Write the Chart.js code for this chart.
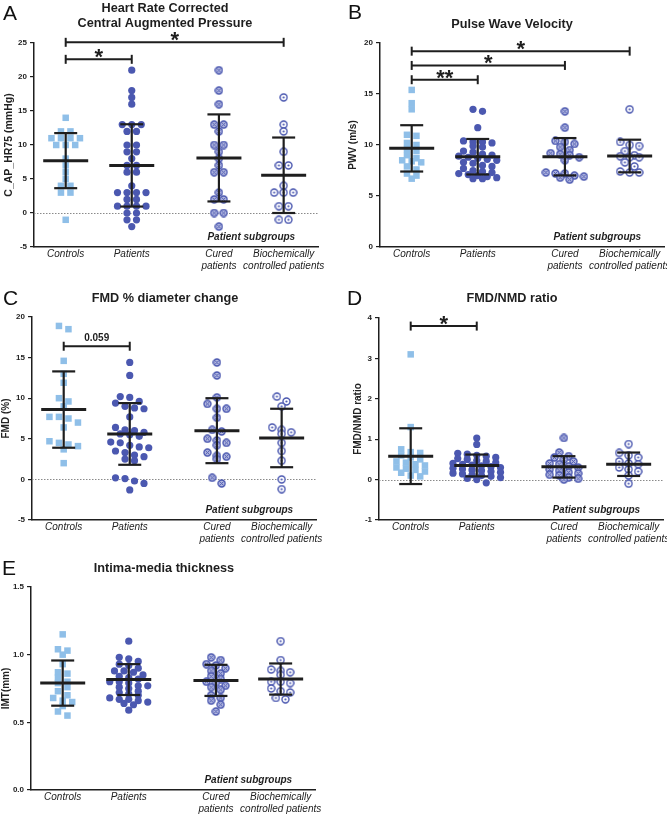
<!DOCTYPE html>
<html>
<head>
<meta charset="utf-8">
<script src="https://cdn.jsdelivr.net/npm/chart.js@4.4.1/dist/chart.umd.min.js"></script>
<style>
html,body{margin:0;padding:0;background:#fff;width:667px;height:815px;overflow:hidden;position:relative}
canvas{position:absolute}
</style>
</head>
<body>
<canvas id="cA" width="333" height="272" style="left:0;top:0"></canvas>
<canvas id="cB" width="350" height="272" style="left:333px;top:0"></canvas>
<canvas id="cC" width="333" height="260" style="left:0;top:285px"></canvas>
<canvas id="cD" width="350" height="260" style="left:333px;top:285px"></canvas>
<canvas id="cE" width="333" height="260" style="left:0;top:555px"></canvas>
<script>
// ---------- shared categories ----------
const categoryPositions = [1, 2, 3.32, 4.3];
const categoryLabels = ['Controls', 'Patients', ['Cured', 'patients'], ['Biochemically', 'controlled patients']];
const subgroupLabel = 'Patient subgroups';

// ---------- Panel A: Heart Rate Corrected Central Augmented Pressure ----------
const aControls = [14, 12, 12, 11, 11, 11, 11, 10, 10, 10, 8, 7, 6, 5, 4, 4, 3, 3, -1];
const aPatients = [21, 18, 17, 16, 13, 13, 13, 12, 12, 10, 10, 9, 9, 8, 7, 7, 6, 6, 4, 3, 3, 3, 3, 2, 2, 1, 1, 1, 1, 0, 0, -1, -1, -2];
const aCured = [21, 18, 16, 13, 13, 12, 10, 10, 9, 8, 7, 6, 6, 3, 2, 2, 0, 0, -2];
const aBiochem = [17, 13, 12, 9, 7, 7, 4, 3, 3, 3, 1, 1, -1, -1];
const aMeans = [7.7, 7.0, 8.1, 5.55];
const aSDs = [4.05, 6.05, 6.4, 5.55];
const aTicks = [-5, 0, 5, 10, 15, 20, 25];
const aBracketFrom = [0, 0];
const aBracketTo = [1, 3];
const aBracketY = [22.6, 25.1];
const aBracketText = ['*', '*'];

// ---------- Panel B: Pulse Wave Velocity ----------
const bControls = [15.4, 14.1, 13.5, 11.0, 10.9, 10.2, 10.0, 9.6, 9.4, 9.0, 8.7, 8.5, 8.4, 8.3, 7.9, 7.6, 7.2, 7.0, 6.7];
const bPatients = [13.5, 13.3, 11.7, 10.4, 10.3, 10.3, 10.2, 9.9, 9.8, 9.4, 9.3, 9.1, 9.0, 8.9, 8.8, 8.7, 8.6, 8.5, 8.3, 8.2, 8.0, 7.9, 7.7, 7.5, 7.4, 7.3, 7.2, 7.1, 7.0, 6.9, 6.8, 6.7, 6.7];
const bCured = [13.3, 11.7, 10.4, 10.3, 10.1, 9.8, 9.5, 9.2, 9.1, 9.0, 8.8, 8.5, 7.3, 7.2, 7.2, 7.0, 6.9, 6.8, 6.6];
const bBiochem = [13.5, 10.3, 10.0, 9.9, 9.4, 9.0, 8.9, 8.8, 8.8, 8.3, 7.9, 7.4, 7.3, 7.3];
const bMeans = [9.67, 8.85, 8.85, 8.92];
const bSDs = [2.27, 1.74, 1.83, 1.6];
const bTicks = [0, 5, 10, 15, 20];
const bBracketFrom = [0, 0, 0];
const bBracketTo = [1, 2, 3];
const bBracketY = [16.4, 17.8, 19.2];
const bBracketText = ['**', '*', '*'];

// ---------- Panel C: FMD % diameter change ----------
const cControls = [18.9, 18.5, 14.6, 13.0, 11.9, 10.0, 9.6, 9.0, 7.7, 7.7, 7.5, 7.0, 6.4, 4.7, 4.5, 4.3, 4.1, 3.7, 2.0];
const cPatients = [14.4, 12.8, 10.2, 10.1, 9.6, 9.4, 9.0, 8.8, 8.7, 7.7, 6.4, 6.1, 6.0, 5.8, 5.6, 5.5, 5.3, 4.6, 4.5, 4.2, 4.0, 3.9, 3.5, 3.3, 3.0, 2.8, 2.5, 2.3, 0.2, 0.1, -0.2, -0.5, -1.3];
const cCured = [14.4, 12.8, 10.1, 9.3, 8.7, 8.7, 7.6, 6.1, 5.9, 5.0, 4.8, 4.5, 4.2, 3.3, 2.9, 2.8, 2.5, 0.2, -0.5];
const cBiochem = [10.2, 9.6, 9.0, 6.4, 6.1, 5.8, 5.6, 4.5, 3.5, 2.3, 0.0, -1.2];
const cMeans = [8.6, 5.6, 6.0, 5.1];
const cSDs = [4.7, 3.8, 4.0, 3.6];
const cTicks = [-5, 0, 5, 10, 15, 20];
const cBracketFrom = [0];
const cBracketTo = [1];
const cBracketY = [16.4];
const cBracketText = ['0.059'];

// ---------- Panel D: FMD/NMD ratio ----------
const dControls = [3.1, 1.3, 0.75, 0.68, 0.66, 0.6, 0.55, 0.5, 0.45, 0.42, 0.38, 0.35, 0.3, 0.27, 0.24, 0.2, 0.17, 0.1, 0.08];
const dPatients = [1.03, 0.87, 0.65, 0.63, 0.6, 0.58, 0.55, 0.52, 0.5, 0.47, 0.45, 0.42, 0.4, 0.38, 0.36, 0.34, 0.32, 0.3, 0.28, 0.26, 0.24, 0.22, 0.2, 0.18, 0.16, 0.14, 0.12, 0.1, 0.08, 0.05, 0.03, 0.0, -0.08];
const dCured = [1.03, 0.67, 0.58, 0.55, 0.5, 0.45, 0.4, 0.38, 0.33, 0.3, 0.25, 0.22, 0.18, 0.15, 0.12, 0.1, 0.05, 0.02, 0.0];
const dBiochem = [0.88, 0.66, 0.6, 0.55, 0.45, 0.4, 0.38, 0.3, 0.25, 0.2, 0.1, -0.1];
const dMeans = [0.58, 0.35, 0.315, 0.38];
const dSDs = [0.69, 0.27, 0.265, 0.29];
const dTicks = [-1, 0, 1, 2, 3, 4];
const dBracketFrom = [0];
const dBracketTo = [1];
const dBracketY = [3.8];
const dBracketText = ['*'];

// ---------- Panel E: Intima-media thickness ----------
const eControls = [1.15, 1.04, 1.03, 1.0, 0.93, 0.87, 0.86, 0.83, 0.80, 0.79, 0.76, 0.73, 0.70, 0.68, 0.66, 0.65, 0.62, 0.58, 0.55];
const ePatients = [1.10, 0.98, 0.97, 0.95, 0.93, 0.92, 0.90, 0.88, 0.88, 0.87, 0.85, 0.84, 0.83, 0.82, 0.80, 0.80, 0.79, 0.77, 0.77, 0.76, 0.75, 0.73, 0.72, 0.71, 0.70, 0.68, 0.67, 0.67, 0.66, 0.65, 0.64, 0.63, 0.59];
const eCured = [0.98, 0.96, 0.93, 0.92, 0.90, 0.88, 0.86, 0.84, 0.82, 0.80, 0.79, 0.77, 0.76, 0.74, 0.70, 0.68, 0.66, 0.63, 0.58];
const eBiochem = [1.10, 0.96, 0.89, 0.88, 0.87, 0.85, 0.80, 0.80, 0.79, 0.75, 0.73, 0.72, 0.68, 0.67];
const eMeans = [0.79, 0.816, 0.81, 0.82];
const eSDs = [0.167, 0.114, 0.115, 0.115];
const eTicks = [0, 0.5, 1.0, 1.5];

// ---------- styling ----------
const FONT = "'Liberation Sans', Arial, Helvetica, sans-serif";
const INK = '#1e1e1e';
const LIGHT_BLUE = '#8fbfe8';
const BLUE = '#4b58b0';

function ringMarker(kind) {
  const c = document.createElement('canvas');
  c.width = 9; c.height = 9;
  const g = c.getContext('2d');
  const cx = 4.5, cy = 4.5, r = 3.5;
  g.beginPath(); g.arc(cx, cy, r, 0, Math.PI * 2);
  g.fillStyle = kind === 'cross' ? '#b3b8e0' : '#ffffff';
  g.fill();
  if (kind === 'cross') {
    g.strokeStyle = BLUE; g.lineWidth = 1;
    g.beginPath();
    g.moveTo(cx - 2, cy - 2); g.lineTo(cx + 2, cy + 2);
    g.moveTo(cx + 2, cy - 2); g.lineTo(cx - 2, cy + 2);
    g.stroke();
  } else {
    g.fillStyle = BLUE;
    g.beginPath(); g.arc(cx, cy, 1.1, 0, Math.PI * 2); g.fill();
  }
  g.strokeStyle = BLUE; g.lineWidth = 1.4;
  g.beginPath(); g.arc(cx, cy, r, 0, Math.PI * 2); g.stroke();
  return c;
}
const crossMarker = ringMarker('cross');
const dotMarker = ringMarker('dot');

function makeDatasets(groups) {
  const styles = ['rect', 'circle', crossMarker, dotMarker];
  return groups.map((vals, i) => ({
    data: vals.map(v => ({ x: categoryPositions[i], y: v })),
    pointStyle: styles[i],
    pointRadius: i === 0 ? 4.6 : 3.6,
    pointHoverRadius: i === 0 ? 4.6 : 3.6,
    backgroundColor: i === 0 ? LIGHT_BLUE : BLUE,
    borderColor: i === 0 ? LIGHT_BLUE : BLUE,
    borderWidth: 0,
    showLine: false
  }));
}

const POINT_GAP = 9.5;
function swarm(chart, rowBin) {
  chart.data.datasets.forEach((ds, i) => {
    const meta = chart.getDatasetMeta(i);
    const pts = meta.data.slice().sort((a, b) => a.y - b.y);
    const rows = []; let cur = [];
    pts.forEach(p => {
      if (cur.length && p.y - cur[0].y >= rowBin) { rows.push(cur); cur = []; }
      cur.push(p);
    });
    if (cur.length) rows.push(cur);
    rows.forEach(r => r.forEach((p, j) => { p.x = p.x + (j - (r.length - 1) / 2) * POINT_GAP; }));
  });
}

function line(ctx, x1, y1, x2, y2) { ctx.beginPath(); ctx.moveTo(x1, y1); ctx.lineTo(x2, y2); ctx.stroke(); }

const decoPlugin = {
  id: 'deco',
  afterDatasetsUpdate(chart, args, o) { swarm(chart, o.rowBin); },
  beforeDatasetsDraw(chart, args, o) {
    if (!o.zeroLine) return;
    const ctx = chart.ctx, ys = chart.scales.y, ca = chart.chartArea;
    const y0 = Math.round(ys.getPixelForValue(0)) + 0.5;
    ctx.save();
    ctx.strokeStyle = '#8a8a8a'; ctx.lineWidth = 1; ctx.setLineDash([1.5, 1.5]);
    line(ctx, ca.left, y0, ca.right, y0);
    ctx.restore();
  },
  afterDatasetsDraw(chart, args, o) {
    const ctx = chart.ctx, xs = chart.scales.x, ys = chart.scales.y;
    ctx.save();
    ctx.strokeStyle = INK; ctx.fillStyle = INK; ctx.lineCap = 'butt';
    o.means.forEach((m, i) => {
      const cx = xs.getPixelForValue(categoryPositions[i]);
      const yM = ys.getPixelForValue(m);
      const yU = ys.getPixelForValue(m + o.sds[i]);
      const yL = ys.getPixelForValue(m - o.sds[i]);
      ctx.lineWidth = 2.2;
      line(ctx, cx, yU, cx, yL);
      line(ctx, cx - 11.5, yU, cx + 11.5, yU);
      line(ctx, cx - 11.5, yL, cx + 11.5, yL);
      ctx.lineWidth = 3;
      line(ctx, cx - 22.5, yM, cx + 22.5, yM);
    });
    (o.bFrom || []).forEach((f, k) => {
      const x1 = xs.getPixelForValue(categoryPositions[f]);
      const x2 = xs.getPixelForValue(categoryPositions[o.bTo[k]]);
      const y = ys.getPixelForValue(o.bY[k]);
      ctx.lineWidth = 2;
      line(ctx, x1, y, x2, y);
      line(ctx, x1, y - 4.5, x1, y + 4.5);
      line(ctx, x2, y - 4.5, x2, y + 4.5);
      const txt = o.bText[k];
      const isStar = /^\*+$/.test(txt);
      ctx.font = isStar ? 'bold 22px ' + FONT : 'bold 10px ' + FONT;
      ctx.textAlign = 'center'; ctx.textBaseline = 'alphabetic';
      const mt = ctx.measureText(txt);
      const gap = isStar ? 1 : 5;
      const base = y - gap - mt.actualBoundingBoxDescent;
      ctx.fillText(txt, (x1 + x2) / 2, base);
    });
    ctx.restore();
  },
  afterDraw(chart, args, o) {
    const ctx = chart.ctx, xs = chart.scales.x, ca = chart.chartArea;
    ctx.save();
    ctx.fillStyle = '#111';
    ctx.textAlign = 'left'; ctx.textBaseline = 'alphabetic';
    ctx.font = '21px ' + FONT;
    ctx.fillText(o.letter, o.letterX, o.letterY);
    ctx.fillStyle = INK;
    ctx.textAlign = 'center';
    ctx.font = 'bold 12.7px ' + FONT;
    o.title.forEach((t, i) => ctx.fillText(t, o.titleX, o.titleY[i]));
    ctx.font = 'italic bold 10px ' + FONT;
    ctx.textBaseline = 'middle';
    const sx = xs.getPixelForValue((categoryPositions[2] + categoryPositions[3]) / 2);
    ctx.fillText(subgroupLabel, sx, ca.bottom - 10);
    ctx.restore();
  }
};

function makeChart(id, p) {
  const canvas = document.getElementById(id);
  return new Chart(canvas, {
    type: 'scatter',
    data: { datasets: makeDatasets(p.groups) },
    plugins: [decoPlugin],
    options: {
      responsive: false,
      animation: false,
      events: [],
      layout: { padding: p.padding },
      plugins: {
        legend: { display: false },
        tooltip: { enabled: false },
        deco: p.deco
      },
      scales: {
        x: {
          type: 'linear', min: 0.52, max: 4.82,
          afterBuildTicks: s => { s.ticks = categoryPositions.map(v => ({ value: v })); },
          afterFit: s => { s.height = 25; },
          ticks: {
            callback: (v, i) => categoryLabels[i],
            autoSkip: false, maxRotation: 0, minRotation: 0, padding: 1,
            color: '#222', font: { family: FONT, size: 10, style: 'italic', lineHeight: 1.2 }
          },
          grid: { display: true, drawOnChartArea: false, drawTicks: false },
          border: { display: true, color: INK, width: 1.5 }
        },
        y: {
          type: 'linear', min: p.ticks[0], max: p.ticks[p.ticks.length - 1],
          afterBuildTicks: s => { s.ticks = p.ticks.map(v => ({ value: v })); },
          afterFit: s => { s.width = p.yWidth; },
          ticks: {
            callback: p.tickFmt || (v => String(v)),
            padding: 3, color: '#222',
            font: { family: FONT, size: 8, weight: 'bold' }
          },
          grid: { display: true, drawOnChartArea: false, drawTicks: true, tickLength: 4, color: INK, lineWidth: 1.2 },
          border: { display: true, color: INK, width: 1.5 },
          title: {
            display: true, text: p.yTitle, color: '#222',
            font: { family: FONT, size: p.yTitleSize || 10, weight: 'bold', lineHeight: 1.2 },
            padding: { top: p.yTitlePad, bottom: 0 }
          }
        }
      }
    }
  });
}

makeChart('cA', {
  groups: [aControls, aPatients, aCured, aBiochem], ticks: aTicks,
  yTitle: 'C_AP_HR75 (mmHg)', yWidth: 34, yTitlePad: 3, yTitleSize: 10.5,
  padding: { left: 0, right: 15, top: 43, bottom: 0 },
  deco: { letter: 'A', letterX: 3, letterY: 20, title: ['Heart Rate Corrected', 'Central Augmented Pressure'],
          titleX: 165, titleY: [11.7, 27.3], zeroLine: true, means: aMeans, sds: aSDs, rowBin: 6,
          bFrom: aBracketFrom, bTo: aBracketTo, bY: aBracketY, bText: aBracketText }
});
makeChart('cB', {
  groups: [bControls, bPatients, bCured, bBiochem], ticks: bTicks,
  yTitle: 'PWV (m/s)', yWidth: 36, yTitlePad: 3,
  padding: { left: 11, right: 19, top: 43, bottom: 0 },
  deco: { letter: 'B', letterX: 15, letterY: 19, title: ['Pulse Wave Velocity'],
          titleX: 179, titleY: [28], zeroLine: false, means: bMeans, sds: bSDs, rowBin: 4.5,
          bFrom: bBracketFrom, bTo: bBracketTo, bY: bBracketY, bText: bBracketText }
});
makeChart('cC', {
  groups: [cControls, cPatients, cCured, cBiochem], ticks: cTicks,
  yTitle: 'FMD (%)', yWidth: 32, yTitlePad: 0,
  padding: { left: 0, right: 17, top: 32, bottom: 0 },
  deco: { letter: 'C', letterX: 3, letterY: 20, title: ['FMD % diameter change'],
          titleX: 165, titleY: [17], zeroLine: true, means: cMeans, sds: cSDs, rowBin: 6,
          bFrom: cBracketFrom, bTo: cBracketTo, bY: cBracketY, bText: cBracketText }
});
makeChart('cD', {
  groups: [dControls, dPatients, dCured, dBiochem], ticks: dTicks,
  yTitle: 'FMD/NMD ratio', yWidth: 30, yTitlePad: 3,
  padding: { left: 16, right: 20, top: 33, bottom: 0 },
  deco: { letter: 'D', letterX: 14, letterY: 20, title: ['FMD/NMD ratio'],
          titleX: 179, titleY: [17], zeroLine: true, means: dMeans, sds: dSDs, rowBin: 4.5,
          bFrom: dBracketFrom, bTo: dBracketTo, bY: dBracketY, bText: dBracketText }
});
makeChart('cE', {
  groups: [eControls, ePatients, eCured, eBiochem], ticks: eTicks,
  yTitle: 'IMT(mm)', yWidth: 31, yTitlePad: 0,
  tickFmt: v => v.toFixed(1),
  padding: { left: 0, right: 18, top: 32, bottom: 0 },
  deco: { letter: 'E', letterX: 2, letterY: 20, title: ['Intima-media thickness'],
          titleX: 164, titleY: [17], zeroLine: false, means: eMeans, sds: eSDs, rowBin: 5,
          bFrom: [], bTo: [], bY: [], bText: [] }
});
</script>
</body>
</html>
